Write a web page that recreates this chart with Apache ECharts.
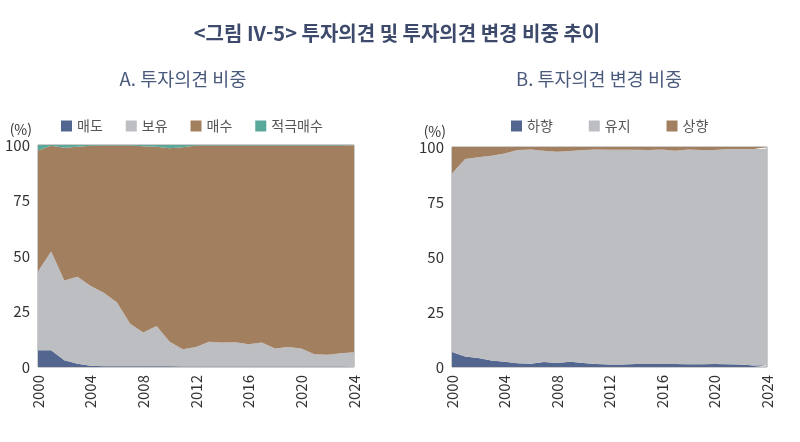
<!DOCTYPE html>
<html lang="ko">
<head>
<meta charset="UTF-8">
<title>투자의견 및 투자의견 변경 비중 추이</title>
<script src="https://cdn.jsdelivr.net/npm/echarts@6/dist/echarts.min.js"></script>
<style>
  html, body { margin: 0; padding: 0; background: #fff; }
  #main { width: 800px; height: 442px; }
</style>
</head>
<body>
<div id="main"></div>
<script>
// 연도
var years = ['2000','2001','2002','2003','2004','2005','2006','2007','2008','2009','2010','2011','2012',
             '2013','2014','2015','2016','2017','2018','2019','2020','2021','2022','2023','2024'];

// A. 투자의견 비중 (%)
var sellA   = [7.5,7.5,3,1.5,0.6,0.3,0.3,0.3,0.3,0.3,0.3,0.2,0.2,0.2,0.2,0.2,0.2,0.2,0.2,0.2,0.2,0.2,0.2,0.2,0.2];
var holdA   = [35.5,44.5,36,39.1,35.9,33.2,28.7,19.2,15.2,18.2,11.1,7.8,8.8,11.2,10.8,11,10,10.8,8.1,8.8,8.1,5.5,5.3,6,6.4];
var buyA    = [54.5,47.7,59.8,58.6,63.2,66.3,70.8,80.3,83.9,80.7,87.1,91.0,90.8,88.4,88.8,88.6,89.6,88.8,91.5,90.8,91.5,94.1,94.3,93.6,93.2];
var strongA = [2.5,0.3,1.2,0.8,0.3,0.2,0.2,0.2,0.6,0.8,1.5,1.0,0.2,0.2,0.2,0.2,0.2,0.2,0.2,0.2,0.2,0.2,0.2,0.2,0.2];

// B. 투자의견 변경 비중 (%)
var downB = [6.8,4.8,4.1,3,2.4,1.7,1.5,2.3,1.8,2.4,1.8,1.4,1.1,1.1,1.4,1.4,1.4,1.4,1.3,1.3,1.4,1.3,1.1,0.7,0.9];
var keepB = [81.2,89.7,91.2,93,94.6,96.9,97.4,96,96,95.8,96.8,97.5,97.7,97.7,97.4,97.2,97.5,96.9,97.6,97.3,97.2,97.8,98,98.4,98.3];
var upB   = [12,5.5,4.7,4,3,1.4,1.1,1.7,2.2,1.8,1.4,1.1,1.2,1.2,1.2,1.4,1.1,1.7,1.1,1.4,1.4,0.9,0.9,0.9,0.8];

var FONT = '"Noto Sans CJK KR", "Noto Sans", sans-serif';
var C_SELL = '#52668f', C_HOLD = '#bdbec2', C_BUY = '#a27f5f', C_STRONG = '#5aa89a';

function xAx(idx) {
    return {
        type: 'category', gridIndex: idx, data: years, boundaryGap: false,
        axisLine: { show: false }, axisTick: { show: false },
        axisLabel: { interval: 3, rotate: 90, fontSize: 15, color: '#333', margin: 8, fontFamily: FONT }
    };
}
function yAx(idx) {
    return {
        type: 'value', gridIndex: idx, min: 0, max: 100, interval: 25,
        name: '(%)', nameLocation: 'end', nameGap: 8,
        nameTextStyle: { fontSize: 14, color: '#333', align: 'right', padding: [0, 6, 0, 0], fontFamily: FONT },
        axisLine: { show: false }, axisTick: { show: false }, splitLine: { show: false },
        axisLabel: { fontSize: 15, color: '#333', margin: 8, fontFamily: FONT }
    };
}
function area(name, data, color, xi, stack) {
    return {
        name: name, type: 'line', xAxisIndex: xi, yAxisIndex: xi, stack: stack, data: data,
        symbol: 'none', lineStyle: { width: 0 }, itemStyle: { color: color },
        areaStyle: { color: color, opacity: 1 }
    };
}

var chart = echarts.init(document.getElementById('main'));
var option = {
    animation: false,
    title: [
        { text: '<그림 IV-5> 투자의견 및 투자의견 변경 비중 추이', left: 392, top: 18, textAlign: 'center',
          textStyle: { fontSize: 20, fontWeight: 'bold', color: '#3d4a6b', fontFamily: FONT } },
        { text: 'A. 투자의견 비중', left: 178, top: 65, textAlign: 'center',
          textStyle: { fontSize: 18.5, fontWeight: 'normal', color: '#4a5a7c', fontFamily: FONT } },
        { text: 'B. 투자의견 변경 비중', left: 594, top: 65, textAlign: 'center',
          textStyle: { fontSize: 18.5, fontWeight: 'normal', color: '#4a5a7c', fontFamily: FONT } }
    ],
    legend: [
        { data: ['매도', '보유', '매수', '적극매수'], left: 56, top: 114, icon: 'rect',
          itemWidth: 11, itemHeight: 11, itemGap: 23,
          textStyle: { fontSize: 14, color: '#555', fontFamily: FONT } },
        { data: ['하향', '유지', '상향'], left: 506, top: 114, icon: 'rect',
          itemWidth: 11, itemHeight: 11, itemGap: 36,
          textStyle: { fontSize: 14, color: '#555', fontFamily: FONT } }
    ],
    grid: [
        { left: 38, right: 446, top: 145, bottom: 75, show: true, borderColor: '#999', borderWidth: 1 },
        { left: 452, right: 33, top: 147, bottom: 75, show: true, borderColor: '#999', borderWidth: 1 }
    ],
    xAxis: [xAx(0), xAx(1)],
    yAxis: [yAx(0), yAx(1)],
    series: [
        area('매도', sellA, C_SELL, 0, 'a'),
        area('보유', holdA, C_HOLD, 0, 'a'),
        area('매수', buyA, C_BUY, 0, 'a'),
        area('적극매수', strongA, C_STRONG, 0, 'a'),
        area('하향', downB, C_SELL, 1, 'b'),
        area('유지', keepB, C_HOLD, 1, 'b'),
        area('상향', upB, C_BUY, 1, 'b')
    ]
};
chart.setOption(option);
</script>
</body>
</html>
